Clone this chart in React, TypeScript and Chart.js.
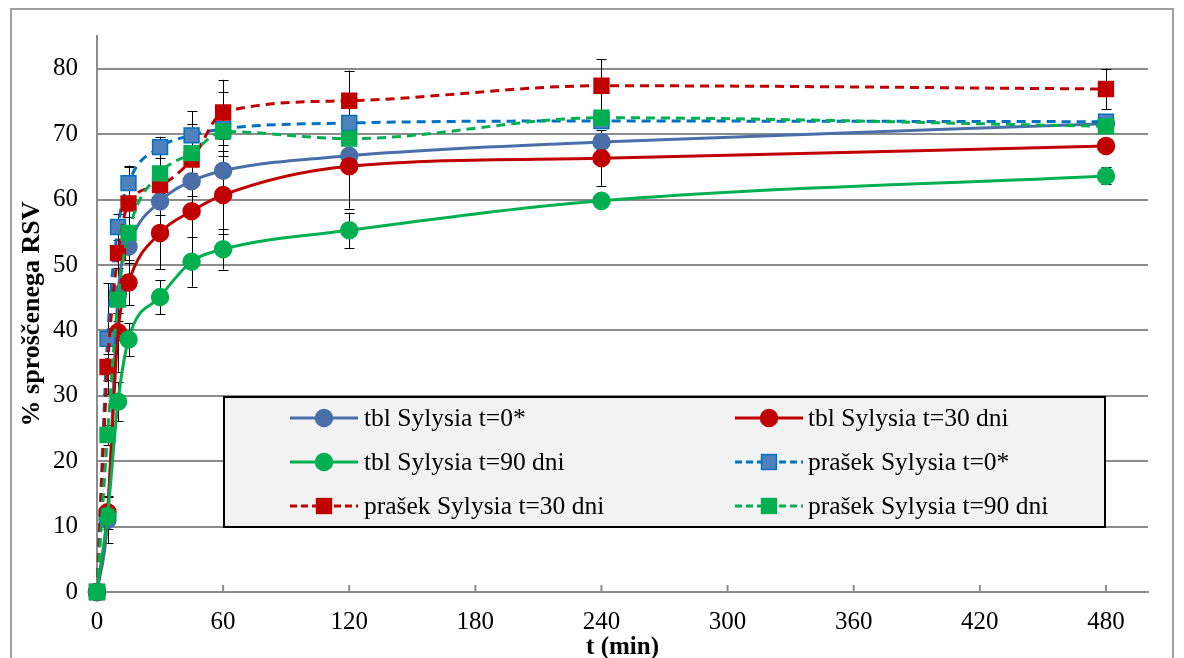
import React, { useEffect, useRef } from 'react';
import { Chart, registerables } from 'chart.js';

Chart.register(...registerables);

// ---------- data ----------
const TIMES = [0, 5, 10, 15, 30, 45, 60, 120, 240, 480];
const X_TICKS = [0, 60, 120, 180, 240, 300, 360, 420, 480];
const Y_TICKS = [0, 10, 20, 30, 40, 50, 60, 70, 80];

const SERIES_LABELS = [
  'tbl Sylysia t=0*',
  'tbl Sylysia t=30 dni',
  'tbl Sylysia t=90 dni',
  'prašek Sylysia t=0*',
  'prašek Sylysia t=30 dni',
  'prašek Sylysia t=90 dni',
];

const TBL_T0 = [0, 11.0, 45.5, 52.8, 59.7, 62.8, 64.4, 66.7, 68.8, 71.6];
const TBL_T30 = [0, 12.2, 39.7, 47.3, 54.9, 58.2, 60.7, 65.1, 66.3, 68.2];
const TBL_T90 = [0, 11.6, 29.1, 38.6, 45.1, 50.5, 52.4, 55.3, 59.8, 63.6];
const PRASEK_T0 = [0, 38.7, 55.8, 62.5, 68.0, 69.8, 70.8, 71.7, 72.0, 71.9];
const PRASEK_T30 = [0, 34.4, 51.8, 59.4, 62.2, 66.1, 73.3, 75.1, 77.4, 76.9];
const PRASEK_T90 = [0, 24.0, 44.7, 54.9, 64.0, 67.1, 70.4, 69.3, 72.5, 71.2];

const TBL_T0_ERR = [0, 3.5, 4.0, 2.5, 2.0, 3.5, 3.0, 2.0, 1.2, 1.0];
const TBL_T30_ERR = [0, 2.5, 6.0, 3.5, 5.5, 7.2, 6.0, 6.5, 4.3, 1.0];
const TBL_T90_ERR = [0, 1.5, 3.0, 2.5, 2.6, 3.8, 3.1, 2.7, 0.8, 1.3];
const PRASEK_T0_ERR = [0, 8.5, 2.0, 2.5, 1.6, 3.7, 1.5, 1.2, 0.8, 1.0];
const PRASEK_T30_ERR = [0, 2.0, 5.0, 5.8, 3.0, 5.5, 5.0, 4.6, 4.1, 3.1];
const PRASEK_T90_ERR = [0, 1.5, 2.0, 2.5, 3.0, 3.0, 6.0, 1.0, 0.6, 1.0];

// ---------- styles ----------
const FONT = "'Liberation Serif', 'Times New Roman', serif";
const GRID = '#8c8c8c';

type Style = { line: string; fill: string; edge: string; dashed: boolean; shape: 'circle' | 'rect' };
const STYLES: Style[] = [
  { line: '#4a6fa8', fill: '#4a6fa8', edge: '#4a6fa8', dashed: false, shape: 'circle' },
  { line: '#c00000', fill: '#c00000', edge: '#c00000', dashed: false, shape: 'circle' },
  { line: '#00b050', fill: '#00b050', edge: '#00b050', dashed: false, shape: 'circle' },
  { line: '#0070c0', fill: '#4f81bd', edge: '#0070c0', dashed: true, shape: 'rect' },
  { line: '#c00000', fill: '#c00000', edge: '#c00000', dashed: true, shape: 'rect' },
  { line: '#00b050', fill: '#00b050', edge: '#00b050', dashed: true, shape: 'rect' },
];
const VALUES = [TBL_T0, TBL_T30, TBL_T90, PRASEK_T0, PRASEK_T30, PRASEK_T90];
const ERRORS = [TBL_T0_ERR, TBL_T30_ERR, TBL_T90_ERR, PRASEK_T0_ERR, PRASEK_T30_ERR, PRASEK_T90_ERR];

const DASH = [9, 6];
const CIRCLE_R = 8.5;
const RECT_R = 10.5;

function drawMarker(ctx: CanvasRenderingContext2D, s: Style, x: number, y: number) {
  ctx.save();
  ctx.setLineDash([]);
  ctx.fillStyle = s.fill;
  ctx.strokeStyle = s.edge;
  ctx.lineWidth = 1.5;
  if (s.shape === 'circle') {
    ctx.beginPath();
    ctx.arc(x, y, CIRCLE_R, 0, Math.PI * 2);
    ctx.fill();
    ctx.stroke();
  } else {
    const h = RECT_R * Math.SQRT1_2;
    ctx.fillRect(x - h, y - h, 2 * h, 2 * h);
    ctx.strokeRect(x - h, y - h, 2 * h, 2 * h);
  }
  ctx.restore();
}

const errorBarPlugin = {
  id: 'errorBars',
  beforeDatasetsDraw(chart: any) {
    const ctx = chart.ctx as CanvasRenderingContext2D;
    const xs = chart.scales.x;
    const ys = chart.scales.y;
    ctx.save();
    ctx.strokeStyle = '#000';
    ctx.lineWidth = 1;
    ERRORS.forEach((errs, si) => {
      errs.forEach((e, i) => {
        if (!e) return;
        const v = VALUES[si][i];
        const px = Math.round(xs.getPixelForValue(TIMES[i])) + 0.5;
        const y1 = ys.getPixelForValue(v + e);
        const y2 = ys.getPixelForValue(v - e);
        ctx.beginPath();
        ctx.moveTo(px, y1);
        ctx.lineTo(px, y2);
        ctx.moveTo(px - 5, Math.round(y1) + 0.5);
        ctx.lineTo(px + 5, Math.round(y1) + 0.5);
        ctx.moveTo(px - 5, Math.round(y2) + 0.5);
        ctx.lineTo(px + 5, Math.round(y2) + 0.5);
        ctx.stroke();
      });
    });
    ctx.restore();
  },
};

const innerTicksPlugin = {
  id: 'innerTicks',
  afterDatasetsDraw(chart: any) {
    const ctx = chart.ctx as CanvasRenderingContext2D;
    const xs = chart.scales.x;
    const bottom = chart.chartArea.bottom;
    ctx.save();
    ctx.strokeStyle = GRID;
    ctx.lineWidth = 2;
    X_TICKS.forEach((t) => {
      if (t === 0) return;
      const px = xs.getPixelForValue(t);
      ctx.beginPath();
      ctx.moveTo(px, bottom);
      ctx.lineTo(px, bottom - 7);
      ctx.stroke();
    });
    ctx.restore();
  },
};

// legend layout (pixels on the canvas)
const LEG_BOX = { left: 224, top: 397, right: 1105, bottom: 527 };
const LEG_COLS = [
  { lineStart: 290, lineEnd: 358, text: 364 },
  { lineStart: 735, lineEnd: 803, text: 808 },
];
const LEG_ROWS = [418, 462, 506];

const boxLegendPlugin = {
  id: 'boxLegend',
  afterDraw(chart: any) {
    const ctx = chart.ctx as CanvasRenderingContext2D;
    ctx.save();
    ctx.fillStyle = '#f2f2f2';
    ctx.fillRect(LEG_BOX.left, LEG_BOX.top, LEG_BOX.right - LEG_BOX.left, LEG_BOX.bottom - LEG_BOX.top);
    ctx.strokeStyle = '#000';
    ctx.lineWidth = 2;
    ctx.strokeRect(LEG_BOX.left, LEG_BOX.top, LEG_BOX.right - LEG_BOX.left, LEG_BOX.bottom - LEG_BOX.top);
    SERIES_LABELS.forEach((label, i) => {
      const col = LEG_COLS[i % 2];
      const y = LEG_ROWS[Math.floor(i / 2)];
      const s = STYLES[i];
      ctx.save();
      ctx.strokeStyle = s.line;
      ctx.lineWidth = 3;
      ctx.setLineDash(s.dashed ? [7, 4] : []);
      ctx.beginPath();
      ctx.moveTo(col.lineStart, y);
      ctx.lineTo(col.lineEnd, y);
      ctx.stroke();
      ctx.restore();
      drawMarker(ctx, s, (col.lineStart + col.lineEnd) / 2, y);
      ctx.fillStyle = '#000';
      ctx.font = `25.5px ${FONT}`;
      ctx.textBaseline = 'middle';
      ctx.textAlign = 'left';
      ctx.fillText(label, col.text, y + 1);
    });
    ctx.restore();
  },
};

export default function App() {
  const ref = useRef<HTMLCanvasElement | null>(null);

  useEffect(() => {
    if (!ref.current) return;
    const datasets = SERIES_LABELS.map((label, i) => {
      const s = STYLES[i];
      return {
        label,
        data: TIMES.map((t, j) => ({ x: t, y: VALUES[i][j] })),
        borderColor: s.line,
        backgroundColor: s.fill,
        borderWidth: 3,
        borderDash: s.dashed ? DASH : [],
        pointStyle: s.shape,
        pointRadius: s.shape === 'circle' ? CIRCLE_R : RECT_R,
        pointBackgroundColor: s.fill,
        pointBorderColor: s.edge,
        pointBorderWidth: 1.5,
        cubicInterpolationMode: 'monotone' as const,
        clip: false as any,
        order: 10 - i,
      };
    });

    const chart = new Chart(ref.current, {
      type: 'line',
      data: { datasets },
      options: {
        animation: false,
        responsive: false,
        devicePixelRatio: 1,
        parsing: false,
        layout: { padding: { left: 0, right: 36, top: 36, bottom: 0 } },
        plugins: { legend: { display: false }, tooltip: { enabled: false } },
        scales: {
          x: {
            type: 'linear',
            min: 0,
            max: 500,
            afterBuildTicks: (s: any) => {
              s.ticks = X_TICKS.map((v) => ({ value: v }));
            },
            afterFit: (s: any) => {
              s.height = 66;
            },
            grid: { color: 'rgba(0,0,0,0)', drawTicks: false },
            border: { display: true, color: GRID, width: 2 },
            ticks: {
              font: { family: FONT, size: 25 },
              color: '#000',
              padding: 15,
              maxRotation: 0,
              autoSkip: false,
            },
            title: {
              display: true,
              text: 't (min)',
              font: { family: FONT, size: 25, weight: 'bold' },
              color: '#000',
              padding: { top: 0, bottom: -5 },
            },
          },
          y: {
            type: 'linear',
            min: 0,
            max: 85,
            afterBuildTicks: (s: any) => {
              s.ticks = Y_TICKS.map((v) => ({ value: v }));
            },
            afterFit: (s: any) => {
              s.width = 97;
            },
            grid: { color: GRID, lineWidth: 2, drawTicks: false },
            border: { display: true, color: GRID, width: 2 },
            ticks: {
              font: { family: FONT, size: 25 },
              color: '#000',
              padding: 19,
            },
            title: {
              display: true,
              text: '% sproščenega RSV',
              font: { family: FONT, size: 26, weight: 'bold' },
              color: '#000',
              padding: { top: 17, bottom: 0 },
            },
          },
        },
      },
      plugins: [errorBarPlugin, innerTicksPlugin, boxLegendPlugin],
    } as any);

    return () => chart.destroy();
  }, []);

  return (
    <div style={{ position: 'fixed', left: 0, top: 0, width: 1184, height: 658, overflow: 'hidden', background: '#fff' }}>
      <div
        style={{
          position: 'absolute',
          left: 10,
          top: 8,
          width: 1164,
          height: 700,
          border: '2px solid #a0a0a0',
          boxSizing: 'border-box',
        }}
      />
      <canvas ref={ref} width={1184} height={658} style={{ position: 'absolute', left: 0, top: 0, width: 1184, height: 658 }} />
    </div>
  );
}
